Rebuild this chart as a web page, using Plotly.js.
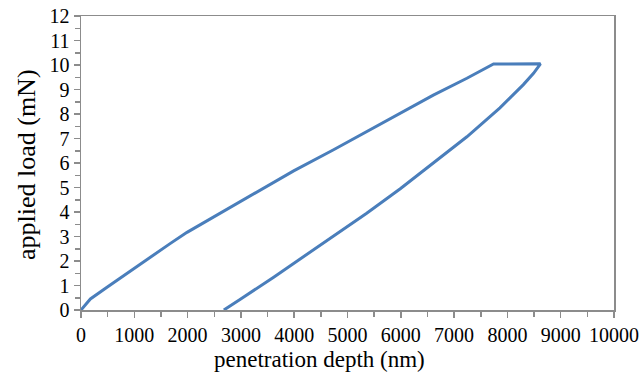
<!DOCTYPE html>
<html>
<head>
<meta charset="utf-8">
<script src="https://cdn.plot.ly/plotly-3.0.1.min.js"></script>
<style>html,body{margin:0;padding:0;background:#fff;}#chart{width:639px;height:376px;}</style>
</head>
<body>
<div id="chart"></div>
<script>
// Loading segment (depth nm, load mN)
var loadDepth = [0, 176, 488, 803, 1116, 1678, 1989, 2490, 2990, 3490, 3990, 4730, 5360, 5990, 6610, 7240, 7740, 8620];
var loadForce = [0, 0.45, 0.93, 1.41, 1.88, 2.72, 3.17, 3.8, 4.43, 5.07, 5.68, 6.53, 7.28, 8.03, 8.77, 9.46, 10.04, 10.05];
// Unloading segment
var unloadDepth = [8620, 8490, 8300, 7860, 7240, 6610, 5990, 5360, 4366, 3615, 2990, 2680];
var unloadForce = [10.05, 9.66, 9.2, 8.25, 7.07, 5.99, 4.95, 3.95, 2.45, 1.34, 0.44, 0];

// Axis tick labels
var xTickVals = [0, 1000, 2000, 3000, 4000, 5000, 6000, 7000, 8000, 9000, 10000];
var xTickText = ['0', '1000', '2000', '3000', '4000', '5000', '6000', '7000', '8000', '9000', '10000'];
var yTickVals = [0, 1, 2, 3, 4, 5, 6, 7, 8, 9, 10, 11, 12];

var xTitle = 'penetration depth (nm)';
var yTitle = 'applied load (mN)';

var depth = loadDepth.concat(unloadDepth);
var force = loadForce.concat(unloadForce);

var lineColor = '#4a7ebb';
var axisColor = '#8c8c8c';
var font = 'Liberation Serif';

var data = [{
  x: depth, y: force, mode: 'lines', type: 'scatter',
  line: {color: lineColor, width: 3}, hoverinfo: 'none'
}];

var layout = {
  width: 639, height: 376,
  margin: {l: 81, r: 25, t: 16, b: 66},
  paper_bgcolor: '#fff', plot_bgcolor: '#fff',
  showlegend: false,
  font: {family: font, color: '#000', size: 20},
  xaxis: {
    range: [0, 10000], tickmode: 'array', tickvals: xTickVals, ticktext: xTickText,
    ticklabeloverflow: 'allow',
    showgrid: false, zeroline: false,
    showline: true, linecolor: axisColor, linewidth: 1.5, mirror: true,
    ticks: 'outside', ticklen: 6, tickcolor: axisColor, tickwidth: 1.5,
    minor: {ticks: 'outside', dtick: 500, ticklen: 5, tickcolor: axisColor, tickwidth: 1.5},
    tickfont: {family: font, size: 20, color: '#000'}
  },
  yaxis: {
    range: [0, 12], tickmode: 'array', tickvals: yTickVals,
    showgrid: false, zeroline: false,
    showline: true, linecolor: axisColor, linewidth: 1.5, mirror: true,
    ticks: 'outside', ticklen: 6, tickcolor: axisColor, tickwidth: 1.5,
    minor: {ticks: 'outside', dtick: 0.5, ticklen: 5, tickcolor: axisColor, tickwidth: 1.5},
    tickfont: {family: font, size: 20, color: '#000'}
  },
  annotations: [
    {text: xTitle, xref: 'paper', yref: 'paper', x: 0.447, y: 0, yshift: -49,
     xanchor: 'center', yanchor: 'middle', showarrow: false,
     font: {family: font, size: 23, color: '#000'}},
    {text: yTitle, xref: 'paper', yref: 'paper', x: 0, y: 0.493, xshift: -55,
     xanchor: 'center', yanchor: 'middle', textangle: -90, showarrow: false,
     font: {family: font, size: 26, color: '#000'}}
  ]
};

Plotly.newPlot('chart', data, layout, {staticPlot: true, displayModeBar: false});
</script>
</body>
</html>
